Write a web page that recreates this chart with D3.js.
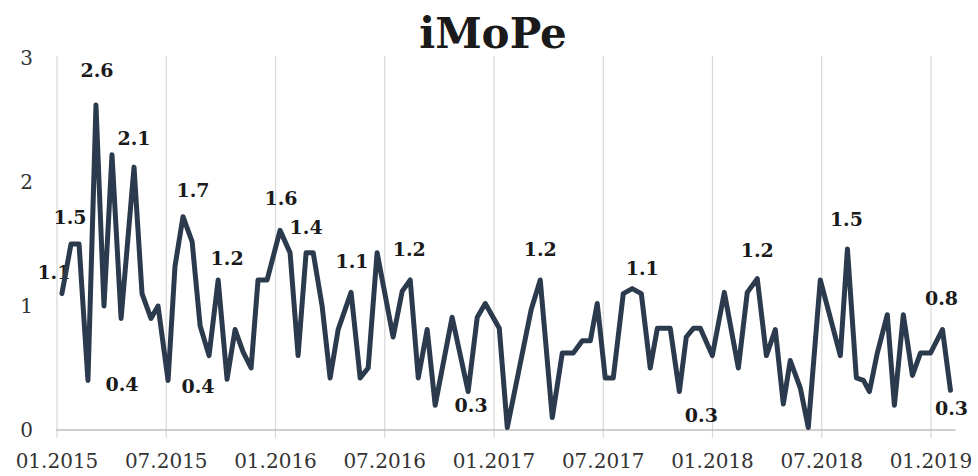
<!DOCTYPE html>
<html>
<head>
<meta charset="utf-8">
<script src="https://cdn.jsdelivr.net/npm/d3@7"></script>
<style>
  html, body { margin: 0; padding: 0; background: #fff; }
  svg { display: block; }
</style>
</head>
<body>
<div id="chart"></div>
<script>
// -----------------------------
// Data (months since 01.2015, index value)
// -----------------------------
const months = [
  0.27, 0.77, 1.21, 1.70, 2.14, 2.58, 3.02, 3.52, 4.23, 4.67,
  5.16, 5.55, 6.10, 6.48, 6.92, 7.42, 7.86, 8.35, 8.85, 9.34,
  9.78, 10.22, 10.66, 11.04, 11.54, 12.25, 12.80, 13.24, 13.68, 14.07,
  14.56, 15.00, 15.44, 16.15, 16.65, 17.09, 17.58, 18.46, 18.96, 19.40,
  19.84, 20.33, 20.77, 21.70, 22.58, 23.08, 23.52, 24.29, 24.73, 26.04,
  26.54, 27.20, 27.75, 28.35, 28.85, 29.29, 29.67, 30.11, 30.55, 31.10,
  31.59, 32.09, 32.58, 32.97, 33.68, 34.18, 34.56, 34.95, 35.33, 35.99,
  36.65, 37.42, 37.91, 38.46, 38.96, 39.45, 39.89, 40.27, 40.82, 41.26,
  41.92, 43.02, 43.41, 43.90, 44.29, 44.62, 45.05, 45.60, 45.99, 46.48,
  46.98, 47.42, 47.97, 48.63, 49.07
];

const values = [
  1.1, 1.5, 1.5, 0.4, 2.62, 1.0, 2.22, 0.9, 2.12, 1.1,
  0.9, 1.0, 0.4, 1.32, 1.72, 1.52, 0.84, 0.6, 1.21, 0.41,
  0.81, 0.63, 0.5, 1.21, 1.21, 1.61, 1.43, 0.6, 1.43, 1.43,
  1.0, 0.42, 0.81, 1.11, 0.42, 0.5, 1.43, 0.75, 1.12, 1.21,
  0.42, 0.81, 0.2, 0.91, 0.31, 0.91, 1.02, 0.82, 0.02, 0.97,
  1.21, 0.1, 0.62, 0.62, 0.72, 0.72, 1.02, 0.42, 0.42, 1.1,
  1.14, 1.1, 0.5, 0.82, 0.82, 0.31, 0.75, 0.82, 0.82, 0.6,
  1.11, 0.5, 1.11, 1.22, 0.6, 0.81, 0.21, 0.56, 0.34, 0.02,
  1.21, 0.6, 1.46, 0.42, 0.40, 0.31, 0.62, 0.93, 0.2, 0.93,
  0.44, 0.62, 0.62, 0.81, 0.32
];

const tickMonths = [0, 6, 12, 18, 24, 30, 36, 42, 48];
const tickLabels = ["01.2015", "07.2015", "01.2016", "07.2016", "01.2017",
                    "07.2017", "01.2018", "07.2018", "01.2019"];
const yTicks = [0, 1, 2, 3];

// points that carry a value label
const labelIndex = [0, 1, 3, 4, 8, 12, 14, 18, 25, 28, 33, 39, 44, 50, 60, 65, 73, 82, 93, 94];

// -----------------------------
// Layout
// -----------------------------
const width = 978, height = 476;
const lineColor = "#2c3a4e";
const serif = "'DejaVu Serif', 'Liberation Serif', serif";

// label placement offsets (dx, dy from the point, baseline)
const labelOffset = {
  0: [-8, -15], 1: [-1, -20], 3: [34, 11], 4: [1, -28], 8: [0, -22],
  12: [30, 13], 14: [10, -20], 18: [9, -15], 25: [1, -25], 28: [0, -19],
  33: [1, -24], 39: [-1, -24], 44: [3, 20], 50: [0, -24], 60: [10, -14],
  65: [22, 30], 73: [0, -22], 82: [-1, -23], 93: [-1, -25], 94: [1, 25]
};

const x = d3.scaleLinear().domain([0, 48]).range([57, 931]);
const y = d3.scaleLinear().domain([0, 3]).range([430, 58]);
const xEnd = 49.35;

const svg = d3.select("#chart").append("svg")
  .attr("width", width)
  .attr("height", height);

// Title
svg.append("text")
  .attr("x", 493)
  .attr("y", 48)
  .attr("text-anchor", "middle")
  .style("font-family", serif)
  .style("font-weight", "bold")
  .style("font-size", "42px")
  .style("fill", "#1a1a1a")
  .text("iMoPe");

// Vertical gridlines + ticks
svg.append("g")
  .selectAll("line")
  .data(tickMonths)
  .join("line")
  .attr("x1", d => x(d))
  .attr("x2", d => x(d))
  .attr("y1", y(3) - 2)
  .attr("y2", y(0) + 8)
  .attr("stroke", "#d9d9d9")
  .attr("stroke-width", 1.2);

// Bottom axis line
svg.append("line")
  .attr("x1", x(0) - 1)
  .attr("x2", x(xEnd))
  .attr("y1", y(0))
  .attr("y2", y(0))
  .attr("stroke", "#bfbfbf")
  .attr("stroke-width", 1.5);

// X tick labels
svg.append("g")
  .selectAll("text")
  .data(tickMonths)
  .join("text")
  .attr("x", d => x(d))
  .attr("y", 468)
  .attr("text-anchor", "middle")
  .style("font-family", serif)
  .style("font-size", "20px")
  .style("fill", "#333")
  .text((d, i) => tickLabels[i]);

// Y tick labels
svg.append("g")
  .selectAll("text")
  .data(yTicks)
  .join("text")
  .attr("x", 33)
  .attr("y", d => y(d) + 7)
  .attr("text-anchor", "end")
  .style("font-family", serif)
  .style("font-size", "20px")
  .style("fill", "#333")
  .text(d => d);

const points = months.map((m, i) => ({ m, v: values[i] }));

// Value labels (drawn under the line)
svg.append("g")
  .selectAll("text")
  .data(labelIndex)
  .join("text")
  .attr("x", i => x(points[i].m) + labelOffset[i][0])
  .attr("y", i => y(points[i].v) + labelOffset[i][1])
  .attr("text-anchor", "middle")
  .style("font-family", serif)
  .style("font-weight", "bold")
  .style("font-size", "19px")
  .style("fill", "#1a1a1a")
  .text(i => points[i].v.toFixed(1));

// Line
const line = d3.line()
  .x(d => x(d.m))
  .y(d => y(d.v));

svg.append("path")
  .datum(points)
  .attr("d", line)
  .attr("fill", "none")
  .attr("stroke", lineColor)
  .attr("stroke-width", 5)
  .attr("stroke-linejoin", "round")
  .attr("stroke-linecap", "round");
</script>
</body>
</html>
